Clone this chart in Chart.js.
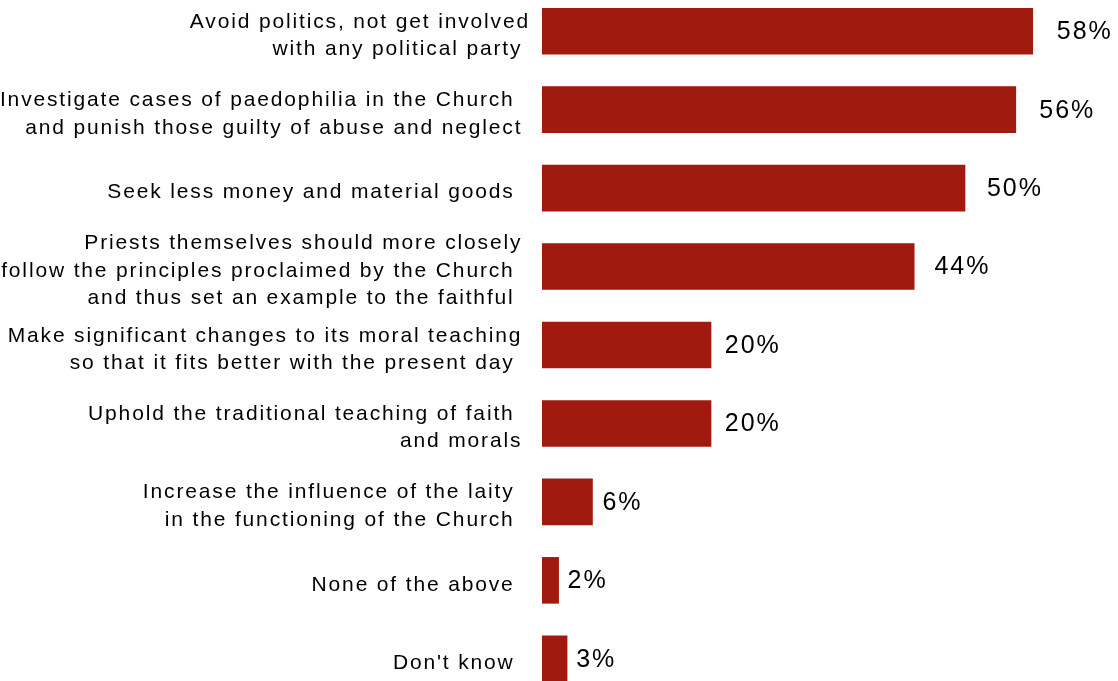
<!DOCTYPE html>
<html>
<head>
<meta charset="utf-8">
<script src="https://cdn.jsdelivr.net/npm/chart.js@4/dist/chart.umd.min.js"></script>
<style>
  html, body { margin: 0; padding: 0; background: #ffffff; overflow: hidden; width: 1118px; height: 681px; }
  #wrap { position: absolute; left: 0; top: -8px; width: 1118px; height: 706px; }
</style>
</head>
<body>
<div id="wrap"><canvas id="c"></canvas></div>
<script>
const categories = [
  ["Avoid politics, not get involved", "with any political party "],
  ["Investigate cases of paedophilia in the Church  ", "and punish those guilty of abuse and neglect "],
  ["Seek less money and material goods  "],
  ["Priests themselves should more closely ", "follow the principles proclaimed by the Church  ", "and thus set an example to the faithful  "],
  ["Make significant changes to its moral teaching ", "so that it fits better with the present day  "],
  ["Uphold the traditional teaching of faith  ", "and morals "],
  ["Increase the influence of the laity  ", "in the functioning of the Church  "],
  ["None of the above  "],
  ["Don't know  "]
];
const values = [58, 56, 50, 44, 20, 20, 6, 2, 3];
const valueLabels = ["58%", "56%", "50%", "44%", "20%", "20%", "6%", "2%", "3%"];

const barColor = "#A11A10";

const spacingPlugin = {
  id: "spacing",
  beforeDraw(chart) {
    chart.ctx.letterSpacing = "1.85px";
  }
};

const valueLabelPlugin = {
  id: "valueLabels",
  afterDatasetsDraw(chart) {
    const ctx = chart.ctx;
    const meta = chart.getDatasetMeta(0);
    const left = chart.chartArea.left;
    ctx.save();
    ctx.letterSpacing = "2px";
    ctx.font = "25px 'Liberation Sans', Arial, sans-serif";
    ctx.fillStyle = "#000000";
    ctx.textAlign = "left";
    ctx.textBaseline = "middle";
    meta.data.forEach((bar, i) => {
      const x = bar.x + 8 + (bar.x - left) * 0.032;
      ctx.fillText(valueLabels[i], x, bar.y + 1);
    });
    ctx.restore();
  }
};

new Chart(document.getElementById("c"), {
  type: "bar",
  data: {
    labels: categories,
    datasets: [{
      data: values,
      backgroundColor: barColor,
      borderWidth: 0,
      categoryPercentage: 1.0,
      barPercentage: 0.594
    }]
  },
  options: {
    indexAxis: "y",
    responsive: true,
    maintainAspectRatio: false,
    animation: false,
    layout: { padding: { left: 0, right: 68, top: 0, bottom: 0 } },
    plugins: {
      legend: { display: false },
      tooltip: { enabled: false },
      title: { display: false }
    },
    scales: {
      x: {
        display: false,
        min: 0,
        max: 60
      },
      y: {
        grid: { display: false, drawTicks: false, tickLength: 0 },
        border: { display: false },
        ticks: {
          color: "#000000",
          padding: 12,
          labelOffset: 4.5,
          autoSkip: false,
          font: { family: "'Liberation Sans', Arial, sans-serif", size: 21, lineHeight: 1.31 }
        },
        afterFit(scale) {
          scale.width = 542;
          scale.paddingTop = 0;
          scale.paddingBottom = 0;
        }
      }
    }
  },
  plugins: [spacingPlugin, valueLabelPlugin]
});
</script>
</body>
</html>
